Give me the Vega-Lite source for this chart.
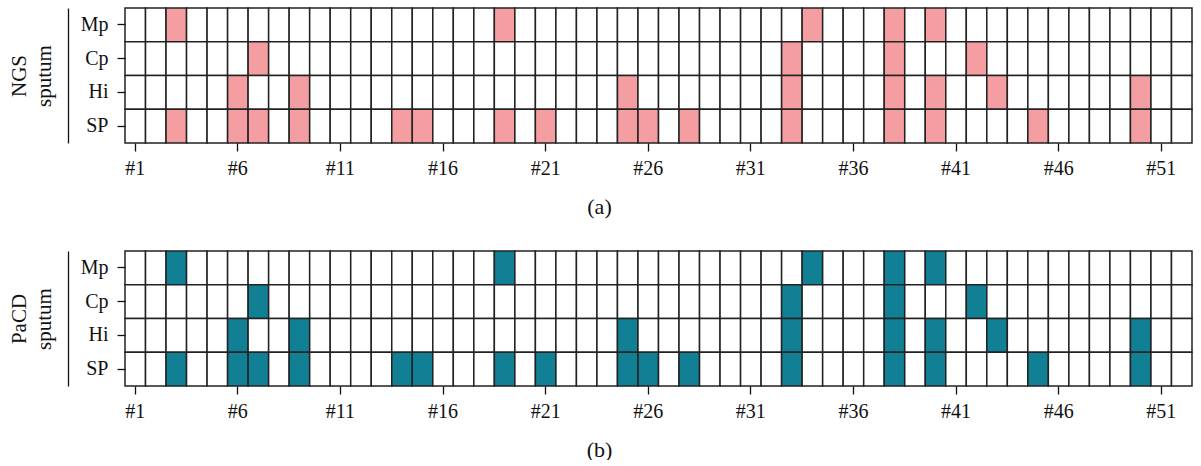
{
  "$schema": "https://vega.github.io/schema/vega-lite/v6.json",
  "padding": {"left": 8, "top": 7, "right": 8, "bottom": 0},
  "bounds": "flush",
  "spacing": 108,
  "resolve": {"scale": {"color": "independent"}},
  "config": {
    "view": {"stroke": null},
    "font": "Liberation Serif",
    "axis": {
      "labelFont": "Liberation Serif",
      "titleFont": "Liberation Serif",
      "labelColor": "#111",
      "titleColor": "#111",
      "titleFontWeight": "normal",
      "labelFontSize": 20,
      "titleFontSize": 21,
      "tickColor": "#111",
      "domainColor": "#111"
    }
  },
  "datasets": {
    "cells": [
      {"c":1,"s":"Mp","n":0,"p":0},{"c":1,"s":"Cp","n":0,"p":0},{"c":1,"s":"Hi","n":0,"p":0},{"c":1,"s":"SP","n":0,"p":0},
      {"c":2,"s":"Mp","n":0,"p":0},{"c":2,"s":"Cp","n":0,"p":0},{"c":2,"s":"Hi","n":0,"p":0},{"c":2,"s":"SP","n":0,"p":0},
      {"c":3,"s":"Mp","n":1,"p":1},{"c":3,"s":"Cp","n":0,"p":0},{"c":3,"s":"Hi","n":0,"p":0},{"c":3,"s":"SP","n":1,"p":1},
      {"c":4,"s":"Mp","n":0,"p":0},{"c":4,"s":"Cp","n":0,"p":0},{"c":4,"s":"Hi","n":0,"p":0},{"c":4,"s":"SP","n":0,"p":0},
      {"c":5,"s":"Mp","n":0,"p":0},{"c":5,"s":"Cp","n":0,"p":0},{"c":5,"s":"Hi","n":0,"p":0},{"c":5,"s":"SP","n":0,"p":0},
      {"c":6,"s":"Mp","n":0,"p":0},{"c":6,"s":"Cp","n":0,"p":0},{"c":6,"s":"Hi","n":1,"p":1},{"c":6,"s":"SP","n":1,"p":1},
      {"c":7,"s":"Mp","n":0,"p":0},{"c":7,"s":"Cp","n":1,"p":1},{"c":7,"s":"Hi","n":0,"p":0},{"c":7,"s":"SP","n":1,"p":1},
      {"c":8,"s":"Mp","n":0,"p":0},{"c":8,"s":"Cp","n":0,"p":0},{"c":8,"s":"Hi","n":0,"p":0},{"c":8,"s":"SP","n":0,"p":0},
      {"c":9,"s":"Mp","n":0,"p":0},{"c":9,"s":"Cp","n":0,"p":0},{"c":9,"s":"Hi","n":1,"p":1},{"c":9,"s":"SP","n":1,"p":1},
      {"c":10,"s":"Mp","n":0,"p":0},{"c":10,"s":"Cp","n":0,"p":0},{"c":10,"s":"Hi","n":0,"p":0},{"c":10,"s":"SP","n":0,"p":0},
      {"c":11,"s":"Mp","n":0,"p":0},{"c":11,"s":"Cp","n":0,"p":0},{"c":11,"s":"Hi","n":0,"p":0},{"c":11,"s":"SP","n":0,"p":0},
      {"c":12,"s":"Mp","n":0,"p":0},{"c":12,"s":"Cp","n":0,"p":0},{"c":12,"s":"Hi","n":0,"p":0},{"c":12,"s":"SP","n":0,"p":0},
      {"c":13,"s":"Mp","n":0,"p":0},{"c":13,"s":"Cp","n":0,"p":0},{"c":13,"s":"Hi","n":0,"p":0},{"c":13,"s":"SP","n":0,"p":0},
      {"c":14,"s":"Mp","n":0,"p":0},{"c":14,"s":"Cp","n":0,"p":0},{"c":14,"s":"Hi","n":0,"p":0},{"c":14,"s":"SP","n":1,"p":1},
      {"c":15,"s":"Mp","n":0,"p":0},{"c":15,"s":"Cp","n":0,"p":0},{"c":15,"s":"Hi","n":0,"p":0},{"c":15,"s":"SP","n":1,"p":1},
      {"c":16,"s":"Mp","n":0,"p":0},{"c":16,"s":"Cp","n":0,"p":0},{"c":16,"s":"Hi","n":0,"p":0},{"c":16,"s":"SP","n":0,"p":0},
      {"c":17,"s":"Mp","n":0,"p":0},{"c":17,"s":"Cp","n":0,"p":0},{"c":17,"s":"Hi","n":0,"p":0},{"c":17,"s":"SP","n":0,"p":0},
      {"c":18,"s":"Mp","n":0,"p":0},{"c":18,"s":"Cp","n":0,"p":0},{"c":18,"s":"Hi","n":0,"p":0},{"c":18,"s":"SP","n":0,"p":0},
      {"c":19,"s":"Mp","n":1,"p":1},{"c":19,"s":"Cp","n":0,"p":0},{"c":19,"s":"Hi","n":0,"p":0},{"c":19,"s":"SP","n":1,"p":1},
      {"c":20,"s":"Mp","n":0,"p":0},{"c":20,"s":"Cp","n":0,"p":0},{"c":20,"s":"Hi","n":0,"p":0},{"c":20,"s":"SP","n":0,"p":0},
      {"c":21,"s":"Mp","n":0,"p":0},{"c":21,"s":"Cp","n":0,"p":0},{"c":21,"s":"Hi","n":0,"p":0},{"c":21,"s":"SP","n":1,"p":1},
      {"c":22,"s":"Mp","n":0,"p":0},{"c":22,"s":"Cp","n":0,"p":0},{"c":22,"s":"Hi","n":0,"p":0},{"c":22,"s":"SP","n":0,"p":0},
      {"c":23,"s":"Mp","n":0,"p":0},{"c":23,"s":"Cp","n":0,"p":0},{"c":23,"s":"Hi","n":0,"p":0},{"c":23,"s":"SP","n":0,"p":0},
      {"c":24,"s":"Mp","n":0,"p":0},{"c":24,"s":"Cp","n":0,"p":0},{"c":24,"s":"Hi","n":0,"p":0},{"c":24,"s":"SP","n":0,"p":0},
      {"c":25,"s":"Mp","n":0,"p":0},{"c":25,"s":"Cp","n":0,"p":0},{"c":25,"s":"Hi","n":1,"p":1},{"c":25,"s":"SP","n":1,"p":1},
      {"c":26,"s":"Mp","n":0,"p":0},{"c":26,"s":"Cp","n":0,"p":0},{"c":26,"s":"Hi","n":0,"p":0},{"c":26,"s":"SP","n":1,"p":1},
      {"c":27,"s":"Mp","n":0,"p":0},{"c":27,"s":"Cp","n":0,"p":0},{"c":27,"s":"Hi","n":0,"p":0},{"c":27,"s":"SP","n":0,"p":0},
      {"c":28,"s":"Mp","n":0,"p":0},{"c":28,"s":"Cp","n":0,"p":0},{"c":28,"s":"Hi","n":0,"p":0},{"c":28,"s":"SP","n":1,"p":1},
      {"c":29,"s":"Mp","n":0,"p":0},{"c":29,"s":"Cp","n":0,"p":0},{"c":29,"s":"Hi","n":0,"p":0},{"c":29,"s":"SP","n":0,"p":0},
      {"c":30,"s":"Mp","n":0,"p":0},{"c":30,"s":"Cp","n":0,"p":0},{"c":30,"s":"Hi","n":0,"p":0},{"c":30,"s":"SP","n":0,"p":0},
      {"c":31,"s":"Mp","n":0,"p":0},{"c":31,"s":"Cp","n":0,"p":0},{"c":31,"s":"Hi","n":0,"p":0},{"c":31,"s":"SP","n":0,"p":0},
      {"c":32,"s":"Mp","n":0,"p":0},{"c":32,"s":"Cp","n":0,"p":0},{"c":32,"s":"Hi","n":0,"p":0},{"c":32,"s":"SP","n":0,"p":0},
      {"c":33,"s":"Mp","n":0,"p":0},{"c":33,"s":"Cp","n":1,"p":1},{"c":33,"s":"Hi","n":1,"p":1},{"c":33,"s":"SP","n":1,"p":1},
      {"c":34,"s":"Mp","n":1,"p":1},{"c":34,"s":"Cp","n":0,"p":0},{"c":34,"s":"Hi","n":0,"p":0},{"c":34,"s":"SP","n":0,"p":0},
      {"c":35,"s":"Mp","n":0,"p":0},{"c":35,"s":"Cp","n":0,"p":0},{"c":35,"s":"Hi","n":0,"p":0},{"c":35,"s":"SP","n":0,"p":0},
      {"c":36,"s":"Mp","n":0,"p":0},{"c":36,"s":"Cp","n":0,"p":0},{"c":36,"s":"Hi","n":0,"p":0},{"c":36,"s":"SP","n":0,"p":0},
      {"c":37,"s":"Mp","n":0,"p":0},{"c":37,"s":"Cp","n":0,"p":0},{"c":37,"s":"Hi","n":0,"p":0},{"c":37,"s":"SP","n":0,"p":0},
      {"c":38,"s":"Mp","n":1,"p":1},{"c":38,"s":"Cp","n":1,"p":1},{"c":38,"s":"Hi","n":1,"p":1},{"c":38,"s":"SP","n":1,"p":1},
      {"c":39,"s":"Mp","n":0,"p":0},{"c":39,"s":"Cp","n":0,"p":0},{"c":39,"s":"Hi","n":0,"p":0},{"c":39,"s":"SP","n":0,"p":0},
      {"c":40,"s":"Mp","n":1,"p":1},{"c":40,"s":"Cp","n":0,"p":0},{"c":40,"s":"Hi","n":1,"p":1},{"c":40,"s":"SP","n":1,"p":1},
      {"c":41,"s":"Mp","n":0,"p":0},{"c":41,"s":"Cp","n":0,"p":0},{"c":41,"s":"Hi","n":0,"p":0},{"c":41,"s":"SP","n":0,"p":0},
      {"c":42,"s":"Mp","n":0,"p":0},{"c":42,"s":"Cp","n":1,"p":1},{"c":42,"s":"Hi","n":0,"p":0},{"c":42,"s":"SP","n":0,"p":0},
      {"c":43,"s":"Mp","n":0,"p":0},{"c":43,"s":"Cp","n":0,"p":0},{"c":43,"s":"Hi","n":1,"p":1},{"c":43,"s":"SP","n":0,"p":0},
      {"c":44,"s":"Mp","n":0,"p":0},{"c":44,"s":"Cp","n":0,"p":0},{"c":44,"s":"Hi","n":0,"p":0},{"c":44,"s":"SP","n":0,"p":0},
      {"c":45,"s":"Mp","n":0,"p":0},{"c":45,"s":"Cp","n":0,"p":0},{"c":45,"s":"Hi","n":0,"p":0},{"c":45,"s":"SP","n":1,"p":1},
      {"c":46,"s":"Mp","n":0,"p":0},{"c":46,"s":"Cp","n":0,"p":0},{"c":46,"s":"Hi","n":0,"p":0},{"c":46,"s":"SP","n":0,"p":0},
      {"c":47,"s":"Mp","n":0,"p":0},{"c":47,"s":"Cp","n":0,"p":0},{"c":47,"s":"Hi","n":0,"p":0},{"c":47,"s":"SP","n":0,"p":0},
      {"c":48,"s":"Mp","n":0,"p":0},{"c":48,"s":"Cp","n":0,"p":0},{"c":48,"s":"Hi","n":0,"p":0},{"c":48,"s":"SP","n":0,"p":0},
      {"c":49,"s":"Mp","n":0,"p":0},{"c":49,"s":"Cp","n":0,"p":0},{"c":49,"s":"Hi","n":0,"p":0},{"c":49,"s":"SP","n":0,"p":0},
      {"c":50,"s":"Mp","n":0,"p":0},{"c":50,"s":"Cp","n":0,"p":0},{"c":50,"s":"Hi","n":1,"p":1},{"c":50,"s":"SP","n":1,"p":1},
      {"c":51,"s":"Mp","n":0,"p":0},{"c":51,"s":"Cp","n":0,"p":0},{"c":51,"s":"Hi","n":0,"p":0},{"c":51,"s":"SP","n":0,"p":0},
      {"c":52,"s":"Mp","n":0,"p":0},{"c":52,"s":"Cp","n":0,"p":0},{"c":52,"s":"Hi","n":0,"p":0},{"c":52,"s":"SP","n":0,"p":0}
    ]
  },
  "vconcat": [
    {
      "width": 1067,
      "height": 135,
      "data": {"name": "cells"},
      "resolve": {"axis": {"y": "independent"}},
      "layer": [
        {
          "mark": {"type": "rect", "stroke": "#222", "strokeWidth": 1.5},
          "encoding": {
            "x": {"field": "c", "type": "ordinal", "scale": {"paddingInner": 0, "paddingOuter": 0},
              "axis": {"values": [1,6,11,16,21,26,31,36,41,46,51], "labelExpr": "'#' + datum.value", "labelAngle": 0, "domain": false, "tickSize": 8, "tickWidth": 1.3, "labelPadding": 7, "title": "(a)", "titleX": 474, "titleY": 63, "titleAlign": "center", "titleBaseline": "middle", "titleFontSize": 22}},
            "y": {"field": "s", "type": "nominal", "sort": ["Mp","Cp","Hi","SP"], "scale": {"paddingInner": 0, "paddingOuter": 0},
              "axis": {"domain": false, "tickSize": 8, "tickWidth": 1.3, "labelPadding": 9, "title": null}},
            "color": {"field": "n", "type": "nominal", "scale": {"domain": [0, 1], "range": ["#ffffff", "#F59EA2"]}, "legend": null}
          }
        },
        {
          "mark": {"type": "rect", "opacity": 0},
          "encoding": {
            "y": {"field": "s", "type": "nominal", "sort": ["Mp","Cp","Hi","SP"],
              "axis": {"orient": "left", "offset": 57, "domain": true, "domainWidth": 1.3, "ticks": false, "labels": false, "title": ["NGS", "sputum"], "titlePadding": 14, "titleLineHeight": 25}}
          }
        }
      ]
    },
    {
      "width": 1067,
      "height": 135,
      "data": {"name": "cells"},
      "resolve": {"axis": {"y": "independent"}},
      "layer": [
        {
          "mark": {"type": "rect", "stroke": "#222", "strokeWidth": 1.5},
          "encoding": {
            "x": {"field": "c", "type": "ordinal", "scale": {"paddingInner": 0, "paddingOuter": 0},
              "axis": {"values": [1,6,11,16,21,26,31,36,41,46,51], "labelExpr": "'#' + datum.value", "labelAngle": 0, "domain": false, "tickSize": 8, "tickWidth": 1.3, "labelPadding": 7, "title": "(b)", "titleX": 474, "titleY": 63, "titleAlign": "center", "titleBaseline": "middle", "titleFontSize": 22}},
            "y": {"field": "s", "type": "nominal", "sort": ["Mp","Cp","Hi","SP"], "scale": {"paddingInner": 0, "paddingOuter": 0},
              "axis": {"domain": false, "tickSize": 8, "tickWidth": 1.3, "labelPadding": 9, "title": null}},
            "color": {"field": "p", "type": "nominal", "scale": {"domain": [0, 1], "range": ["#ffffff", "#117F94"]}, "legend": null}
          }
        },
        {
          "mark": {"type": "rect", "opacity": 0},
          "encoding": {
            "y": {"field": "s", "type": "nominal", "sort": ["Mp","Cp","Hi","SP"],
              "axis": {"orient": "left", "offset": 57, "domain": true, "domainWidth": 1.3, "ticks": false, "labels": false, "title": ["PaCD", "sputum"], "titlePadding": 14, "titleLineHeight": 25}}
          }
        }
      ]
    }
  ]
}
